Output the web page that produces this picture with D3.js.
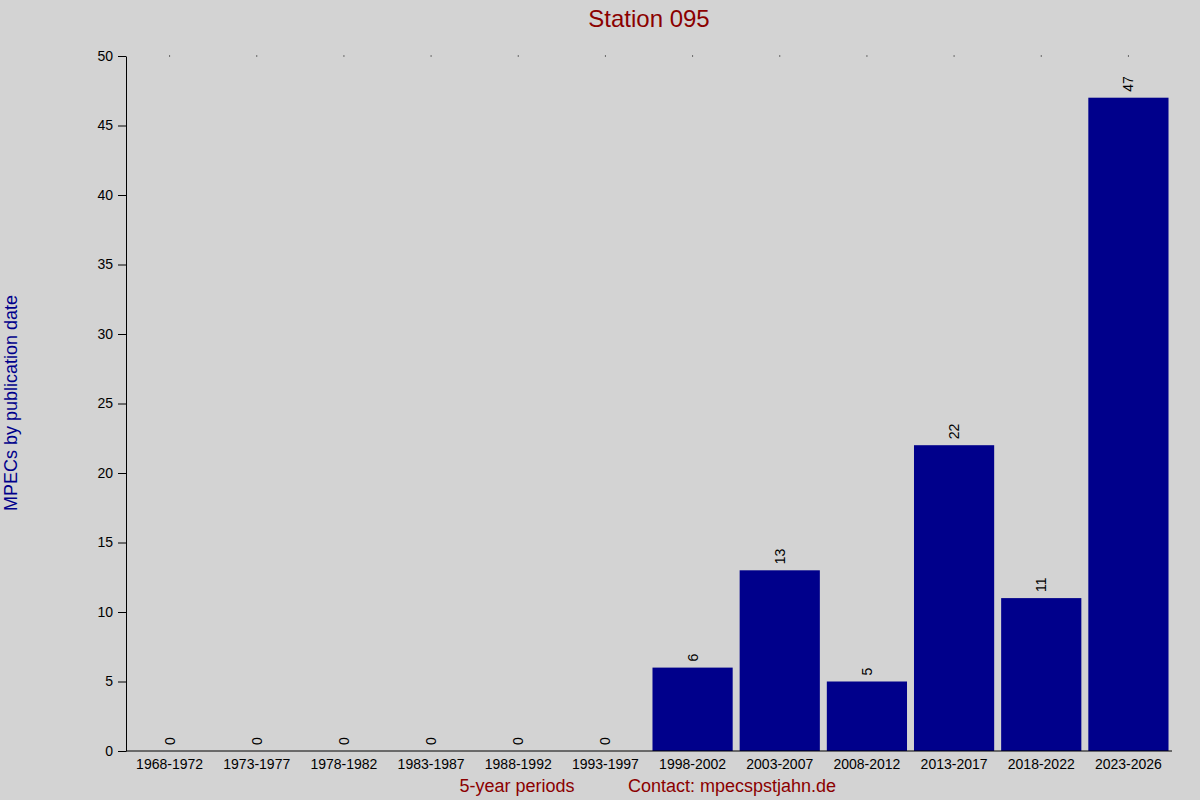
<!DOCTYPE html>
<html><head><meta charset="utf-8">
<script src="https://cdn.jsdelivr.net/npm/d3@7"></script>
<style>body{margin:0;background:#d3d3d3}svg{display:block}</style>
</head><body>
<script>
const categories = ["1968-1972","1973-1977","1978-1982","1983-1987","1988-1992","1993-1997","1998-2002","2003-2007","2008-2012","2013-2017","2018-2022","2023-2026"];
const values = [0,0,0,0,0,0,6,13,5,22,11,47];
const yTicks = [0,5,10,15,20,25,30,35,40,45,50];

const W=1200,H=800, L=126, R=1172, T=56, B=751;
const svg=d3.select("body").append("svg").attr("width",W).attr("height",H).style("font-family","Liberation Sans, Arial, sans-serif");
svg.append("rect").attr("width",W).attr("height",H).attr("fill","#d3d3d3");
const x=d3.scaleBand().domain(categories).range([L,R]).paddingInner(0.08).paddingOuter(0.04);
const y=d3.scaleLinear().domain([0,50]).range([B,T]);

svg.append("g").selectAll("rect").data(values).join("rect")
 .attr("x",(d,i)=>x(categories[i])).attr("width",x.bandwidth())
 .attr("y",d=>y(d)).attr("height",d=>B-y(d)).attr("fill","#00008b");

const ya=svg.append("g").attr("transform",`translate(${L},0)`).call(d3.axisLeft(y).tickValues(yTicks).tickSize(8).tickSizeOuter(0));
ya.selectAll("text").attr("font-size",14).attr("fill","#000").attr("dx","-2");
ya.select(".domain").attr("stroke","#000");
const xa=svg.append("g").attr("transform",`translate(0,${B})`).call(d3.axisBottom(x).tickSize(0).tickSizeOuter(0));
xa.selectAll("text").attr("font-size",14).attr("fill","#000").attr("dy","1.1em");
xa.select(".domain").attr("stroke","#000").attr("d",`M${L},0H${R}`);

svg.append("g").selectAll("rect").data(categories).join("rect")
 .attr("x",d=>x(d)+x.bandwidth()/2-0.5).attr("y",T-0.5).attr("width",1).attr("height",1).attr("fill","#000");

svg.append("g").selectAll("text").data(values).join("text")
 .attr("transform",(d,i)=>`translate(${x(categories[i])+x.bandwidth()/2+5},${y(d)-6}) rotate(-90)`)
 .attr("font-size",14).attr("fill","#000").text(d=>d);

svg.append("text").attr("x",649).attr("y",27).attr("text-anchor","middle").attr("font-size",24).attr("fill","#8b0000").text("Station 095");
svg.append("text").attr("transform","translate(17,403) rotate(-90)").attr("text-anchor","middle").attr("font-size",18).attr("fill","#00008b").text("MPECs by publication date");
svg.append("text").attr("x",517).attr("y",792).attr("text-anchor","middle").attr("font-size",18).attr("fill","#8b0000").text("5-year periods");
svg.append("text").attr("x",732).attr("y",792).attr("text-anchor","middle").attr("font-size",18).attr("fill","#8b0000").text("Contact: mpecspstjahn.de");
</script></body></html>
